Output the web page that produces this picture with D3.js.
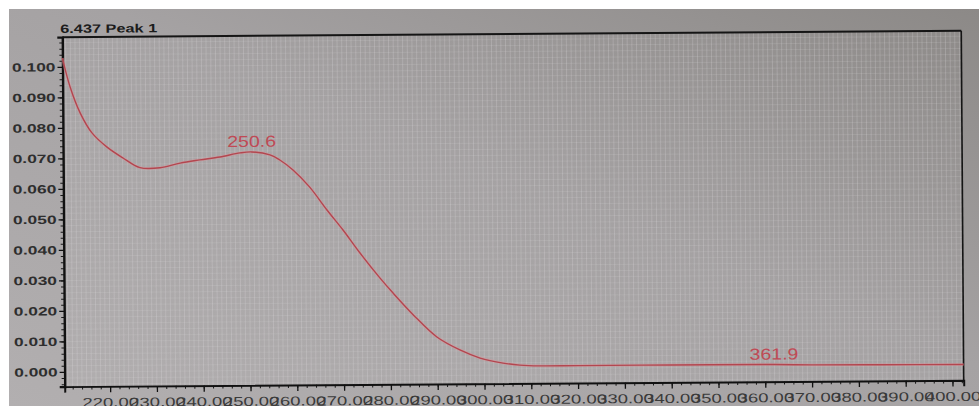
<!DOCTYPE html>
<html>
<head>
<meta charset="utf-8">
<script src="https://cdn.jsdelivr.net/npm/d3@7"></script>
<style>
  html, body { margin: 0; padding: 0; background: #ffffff; }
  svg { display: block; }
  text { font-family: "Liberation Sans", Arial, Helvetica, sans-serif; }
</style>
</head>
<body>
<svg id="chart" width="979" height="406"></svg>
<script>
// UV absorbance spectrum of the peak eluting at 6.437 min
const title = "6.437 Peak 1";
const wavelength = [210.3, 211.9, 214.0, 216.5, 219.7, 223.1, 226.7, 231.0, 235.3, 239.5,
                    243.8, 248.1, 250.6, 254.5, 256.6, 259.4, 262.9, 266.6, 270.0, 273.6,
                    277.8, 280.6, 284.9, 289.9, 294.8, 299.1, 304.0, 307.6, 311.9, 320.0,
                    340.0, 361.9, 370.0, 385.0, 402.4];
const absorbance = [0.1029, 0.0934, 0.0849, 0.0783, 0.0736, 0.0700, 0.0668, 0.0667, 0.0682, 0.0692,
                    0.0701, 0.0714, 0.0717, 0.0707, 0.0690, 0.0657, 0.0601, 0.0525, 0.0459, 0.0383,
                    0.0301, 0.0251, 0.0179, 0.0106, 0.0063, 0.0036, 0.0019, 0.0012, 0.0009, 0.0009,
                    0.0009, 0.0008, 0.0006, 0.0005, 0.0004];
const peakLabels = [250.6, 361.9];
const xTicks = d3.range(220, 401, 10);
const yTicks = d3.range(0, 11).map(i => i / 100);
const xMinorTicks = d3.range(212, 403, 2);
const yMinorTicks = d3.range(-2, 55).map(i => i * 0.002);

const W = 979, H = 406;
const svg = d3.select("#chart");
const defs = svg.append("defs");

// screen background, darker towards the top right
const bg = defs.append("linearGradient").attr("id", "bg")
  .attr("x1", "0").attr("y1", "1").attr("x2", "1").attr("y2", "0");
bg.append("stop").attr("offset", "0").attr("stop-color", "#b2afb0");
bg.append("stop").attr("offset", "0.55").attr("stop-color", "#a5a2a3");
bg.append("stop").attr("offset", "1").attr("stop-color", "#8c8987");
svg.append("rect").attr("x", 9).attr("y", 9).attr("width", W - 9).attr("height", H - 9)
  .attr("fill", "url(#bg)");

const g = svg.append("g").attr("transform", "rotate(-0.4, 512, 210)");

const x = d3.scaleLinear().domain([210.3, 402.4]).range([63.5, 962.5]);
const y = d3.scaleLinear().domain([-0.00482, 0.10977]).range([383.5, 34]);
const [x0, x1] = x.range();
const [y0, y1] = y.range();

// fine grid of the plotting area
g.append("g").selectAll("line").data(d3.range(211, 403, 1)).join("line")
  .attr("x1", d => x(d)).attr("x2", d => x(d)).attr("y1", y1).attr("y2", y0)
  .attr("stroke", "#e6e4e6").attr("stroke-opacity", 0.22).attr("stroke-width", 1);
g.append("g").selectAll("line").data(yMinorTicks.filter(v => y(v) < y0 && y(v) > y1)).join("line")
  .attr("x1", x0).attr("x2", x1).attr("y1", d => y(d)).attr("y2", d => y(d))
  .attr("stroke", "#e6e4e6").attr("stroke-opacity", 0.14).attr("stroke-width", 1);

// frame top and right
g.append("line").attr("x1", x0).attr("x2", x1).attr("y1", y1).attr("y2", y1)
  .attr("stroke", "#151515").attr("stroke-width", 2);
g.append("line").attr("x1", x1).attr("x2", x1).attr("y1", y1).attr("y2", y0)
  .attr("stroke", "#151515").attr("stroke-width", 1.6);

// minor ticks
g.append("g").attr("transform", `translate(0,${y0})`)
  .call(d3.axisBottom(x).tickValues(xMinorTicks).tickSize(3).tickFormat(""))
  .call(s => s.select(".domain").remove())
  .call(s => s.selectAll("line").attr("stroke", "#1a1a1a"));
g.append("g").attr("transform", `translate(${x0},0)`)
  .call(d3.axisLeft(y).tickValues(yMinorTicks.filter(v => y(v) < y0 && y(v) > y1)).tickSize(3).tickFormat(""))
  .call(s => s.select(".domain").remove())
  .call(s => s.selectAll("line").attr("stroke", "#1a1a1a"));

// x axis
const sx = 1.42;
const xAxis = g.append("g").attr("transform", `translate(0,${y0})`)
  .call(d3.axisBottom(x).tickValues(xTicks).tickSize(6).tickPadding(5.3).tickFormat(d3.format(".2f")));
xAxis.select(".domain").attr("stroke", "#111").attr("stroke-width", 2);
xAxis.selectAll(".tick line").attr("stroke", "#111").attr("stroke-width", 1.3);
xAxis.selectAll(".tick text")
  .attr("font-size", 13).attr("fill", "#3a3a3a")
  .attr("font-family", "'Liberation Sans', Arial, sans-serif")
  .attr("transform", `scale(${sx},1)`);

// y axis
const sy = 1.45;
const yAxis = g.append("g").attr("transform", `translate(${x0},0)`)
  .call(d3.axisLeft(y).tickValues(yTicks).tickSize(5).tickPadding(2).tickFormat(d3.format(".3f")));
yAxis.select(".domain").attr("stroke", "#111").attr("stroke-width", 2.4);
yAxis.selectAll(".tick line").attr("stroke", "#111").attr("stroke-width", 1.3);
yAxis.selectAll(".tick text")
  .attr("font-size", 12).attr("font-weight", "bold").attr("fill", "#2e2e2e")
  .attr("font-family", "'Liberation Sans', Arial, sans-serif")
  .attr("x", -7 / sy)
  .attr("transform", `scale(${sy},1)`);

// title
g.append("text")
  .attr("transform", `translate(${x0 - 2},29.8) scale(1.36,1)`)
  .attr("font-size", 12).attr("font-weight", "bold").attr("fill", "#1c1c1c")
  .text(title);

// spectrum
const pts = wavelength.map((w, i) => [w, absorbance[i]]);
const line = d3.line().x(d => x(d[0])).y(d => y(d[1])).curve(d3.curveCatmullRom.alpha(0.5));
g.append("path").datum(pts).attr("d", line)
  .attr("fill", "none").attr("stroke", "#d9959b").attr("stroke-opacity", 0.45)
  .attr("stroke-width", 3).attr("stroke-linejoin", "round");
g.append("path").datum(pts).attr("d", line)
  .attr("fill", "none").attr("stroke", "#b3464f").attr("stroke-width", 1.4)
  .attr("stroke-linejoin", "round");

// peak wavelength labels
g.append("g").selectAll("text").data(peakLabels).join("text")
  .attr("transform", d => {
    const a = absorbance[wavelength.indexOf(d)];
    return `translate(${x(d)},${y(a) - 5}) scale(1.22,1)`;
  })
  .attr("text-anchor", "middle")
  .attr("font-size", 16).attr("fill", "#bf4a55")
  .text(d => d3.format(".1f")(d));
</script>
</body>
</html>
